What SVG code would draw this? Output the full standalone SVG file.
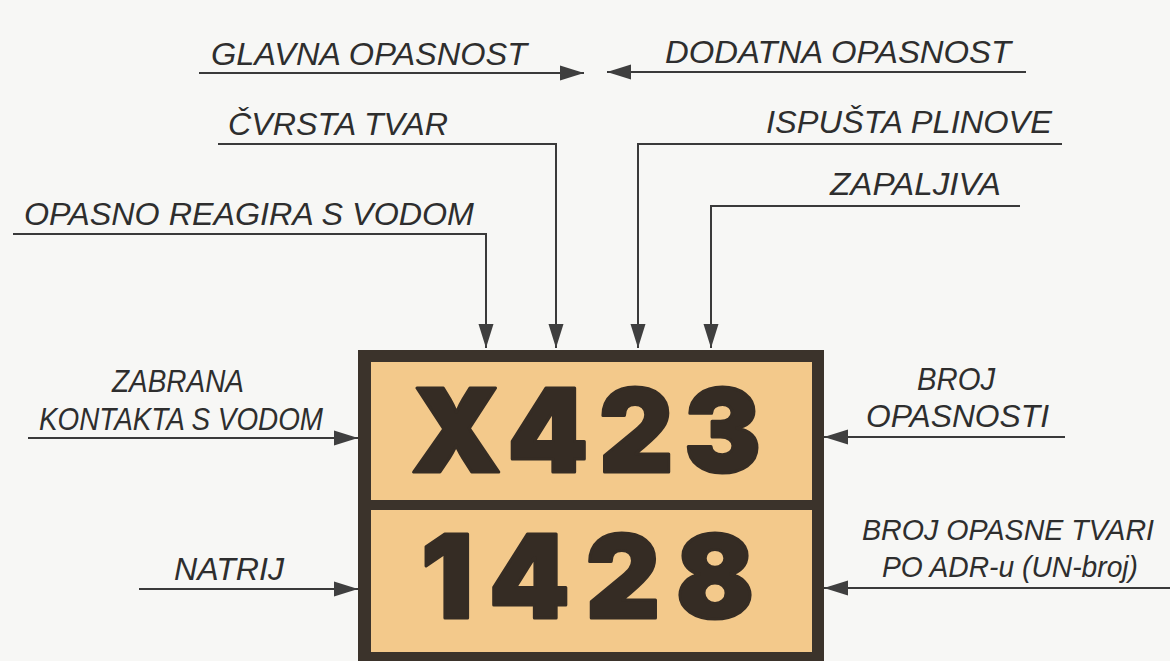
<svg xmlns="http://www.w3.org/2000/svg" width="1170" height="661" viewBox="0 0 1170 661">
<defs>
<style>
.lbl{font-family:"Liberation Sans",Arial,sans-serif;font-style:italic;font-size:32px;fill:#2e2e2e;}
.sm{font-size:29px;}
.big{font-family:Inter,"Liberation Sans",sans-serif;font-weight:900;font-size:115px;fill:#352c24;stroke:#352c24;stroke-width:3;stroke-linejoin:round;}
.con{fill:none;stroke:#3a3a3a;stroke-width:2;}
.panel{fill:#f3c98b;}
</style>
<marker id="ah" markerWidth="24" markerHeight="16" refX="24" refY="8" orient="auto" markerUnits="userSpaceOnUse">
<path d="M0,0.5 L24,8 L0,15.5 z" fill="#3f3f3f"/>
</marker>
</defs>
<rect x="0" y="0" width="1170" height="661" fill="#f7f7f5"/>
<g id="board">
<rect x="358" y="350" width="466" height="320" fill="#3b332b"/>
<rect class="panel" x="371" y="362" width="441" height="138"/>
<rect class="panel" x="371" y="510" width="441" height="142"/>
<text class="big" x="411" y="472" textLength="350" lengthAdjust="spacing">X423</text>
<text class="big" x="421" y="618" textLength="333" lengthAdjust="spacing">1428</text>
</g>
<g id="connectors">
<path class="con" d="M199,73 H584" marker-end="url(#ah)"/>
<path class="con" d="M1026,72 H607" marker-end="url(#ah)"/>
<path class="con" d="M218,144 H556 V348" marker-end="url(#ah)"/>
<path class="con" d="M1062,144 H638 V348" marker-end="url(#ah)"/>
<path class="con" d="M13,234 H486 V348" marker-end="url(#ah)"/>
<path class="con" d="M1020,206 H711 V348" marker-end="url(#ah)"/>
<path class="con" d="M28,438 H358" marker-end="url(#ah)"/>
<path class="con" d="M139,589 H358" marker-end="url(#ah)"/>
<path class="con" d="M1065,437 H824" marker-end="url(#ah)"/>
<path class="con" d="M1170,588 H824" marker-end="url(#ah)"/>
</g>
<g id="glavna"><text class="lbl" x="211" y="65" textLength="316" lengthAdjust="spacingAndGlyphs">GLAVNA OPASNOST</text></g>
<g id="dodatna"><text class="lbl" x="665" y="63" textLength="346" lengthAdjust="spacingAndGlyphs">DODATNA OPASNOST</text></g>
<g id="cvrsta"><text class="lbl" x="228" y="135" textLength="220" lengthAdjust="spacingAndGlyphs">ČVRSTA TVAR</text></g>
<g id="ispusta"><text class="lbl" x="766" y="133" textLength="286" lengthAdjust="spacingAndGlyphs">ISPUŠTA PLINOVE</text></g>
<g id="reagira"><text class="lbl" x="24" y="225" textLength="450" lengthAdjust="spacingAndGlyphs">OPASNO REAGIRA S VODOM</text></g>
<g id="zapaljiva"><text class="lbl" x="830" y="195" textLength="171" lengthAdjust="spacingAndGlyphs">ZAPALJIVA</text></g>
<g id="zabrana">
<text class="lbl" x="112" y="392" textLength="132" lengthAdjust="spacingAndGlyphs">ZABRANA</text>
<text class="lbl" x="39" y="430" textLength="284" lengthAdjust="spacingAndGlyphs">KONTAKTA S VODOM</text>
</g>
<g id="natrij"><text class="lbl" x="174" y="580" textLength="110" lengthAdjust="spacingAndGlyphs">NATRIJ</text></g>
<g id="broj-opasnosti">
<text class="lbl" x="917" y="390" textLength="78" lengthAdjust="spacingAndGlyphs">BROJ</text>
<text class="lbl" x="866" y="427" textLength="183" lengthAdjust="spacingAndGlyphs">OPASNOSTI</text>
</g>
<g id="un-broj">
<text class="lbl sm" x="862" y="540" textLength="292" lengthAdjust="spacingAndGlyphs">BROJ OPASNE TVARI</text>
<text class="lbl sm" x="882" y="577" textLength="256" lengthAdjust="spacingAndGlyphs">PO ADR-u (UN-broj)</text>
</g>
</svg>
